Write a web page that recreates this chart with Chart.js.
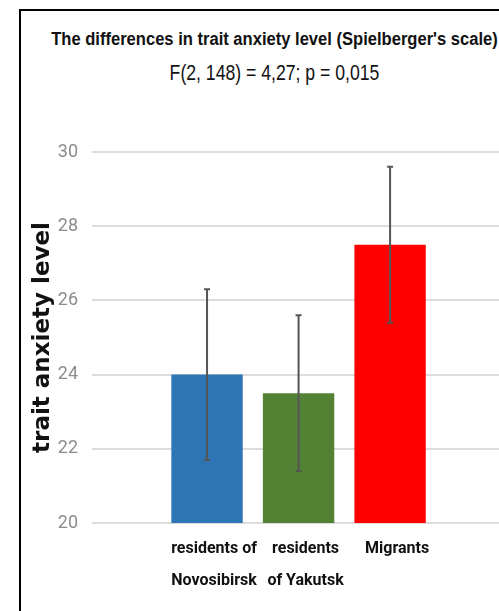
<!DOCTYPE html>
<html>
<head>
<meta charset="utf-8">
<script src="https://cdn.jsdelivr.net/npm/chart.js@4"></script>
<style>
  html, body { margin: 0; padding: 0; background: #fff; }
  body { width: 499px; height: 611px; position: relative; overflow: hidden; }
  #frame { position: absolute; left: 19px; top: 9px; width: 490px; height: 620px;
           border-top: 2px solid #000; border-left: 2px solid #000; }
  #wrap { position: absolute; left: 0; top: 0; width: 499px; height: 611px; }
  .ttl { position: absolute; left: 0; width: 549px; text-align: center; line-height: 1;
         color: #111; font-family: 'Liberation Sans', Arial, sans-serif; white-space: nowrap;
         transform-origin: 274.5px 0; }
  #title { top: 30px; font-size: 18px; font-weight: bold; transform: scaleX(0.92); }
  #subtitle { top: 63px; font-size: 21.5px; transform: scaleX(0.82); }
</style>
</head>
<body>
<div id="frame"></div>
<div id="title" class="ttl">The differences in trait anxiety level (Spielberger's scale)</div>
<div id="subtitle" class="ttl">F(2, 148) = 4,27; p = 0,015</div>
<div id="wrap"><canvas id="chart"></canvas></div>
<script>
/* ── DATA ── */
const categories = [['residents of', 'Novosibirsk'], ['residents', 'of Yakutsk'], ['Migrants']];
const means  = [24.0, 23.5, 27.5];
const errors = [2.3, 2.1, 2.1];
const barColors = ['#2E75B6', '#548235', '#FF0000'];
const yTicks = [20, 22, 24, 26, 28, 30];

/* ── ERROR BARS ── */
const errorBars = {
  id: 'errorBars',
  afterDatasetsDraw(chart) {
    const ctx = chart.ctx, y = chart.scales.y;
    chart.getDatasetMeta(0).data.forEach((bar, i) => {
      const top = y.getPixelForValue(means[i] + errors[i]);
      const bot = y.getPixelForValue(means[i] - errors[i]);
      ctx.save();
      ctx.strokeStyle = '#555';
      ctx.lineWidth = 2;
      ctx.beginPath();
      ctx.moveTo(bar.x, top); ctx.lineTo(bar.x, bot);
      ctx.moveTo(bar.x - 3, top); ctx.lineTo(bar.x + 3, top);
      ctx.moveTo(bar.x - 3, bot); ctx.lineTo(bar.x + 3, bot);
      ctx.stroke();
      ctx.restore();
    });
  }
};

new Chart(document.getElementById('chart'), {
  type: 'bar',
  data: {
    datasets: [{
      data: means.map((m, i) => ({ x: i + 1, y: m })),
      backgroundColor: barColors,
      barPercentage: 0.78,
      categoryPercentage: 1
    }]
  },
  options: {
    responsive: true,
    maintainAspectRatio: false,
    animation: false,
    layout: { padding: { left: 25, right: 0, top: 152, bottom: 4 } },
    plugins: { legend: { display: false }, tooltip: { enabled: false } },
    scales: {
      x: {
        type: 'linear',
        offset: false,
        min: -0.257,
        max: 4.19,
        afterBuildTicks: axis => { axis.ticks = categories.map((c, i) => ({ value: i + 1 })); },
        grid: { display: false, drawTicks: false },
        border: { display: false },
        ticks: {
          callback: v => categories[v - 1],
          color: '#111',
          padding: 10,
          labelOffset: 7,
          maxRotation: 0,
          autoSkip: false,
          font: { family: 'Roboto, sans-serif', size: 16, weight: 'bold', lineHeight: 2 }
        }
      },
      y: {
        min: 20,
        max: 30,
        afterBuildTicks: axis => { axis.ticks = yTicks.map(v => ({ value: v })); },
        afterFit: axis => { axis.width = 67; },
        grid: { color: '#dcdcdc', lineWidth: 2, drawTicks: false },
        border: { display: false },
        ticks: { color: '#8c8c8c', padding: 14, font: { family: 'Roboto, sans-serif', size: 18 } },
        title: {
          display: true,
          text: 'trait anxiety level',
          color: '#111',
          padding: { top: 4, bottom: 3 },
          font: { family: "'DejaVu Sans', sans-serif", size: 23, weight: 'bold', lineHeight: 1.2 }
        }
      }
    }
  },
  plugins: [errorBars]
});
</script>
</body>
</html>
